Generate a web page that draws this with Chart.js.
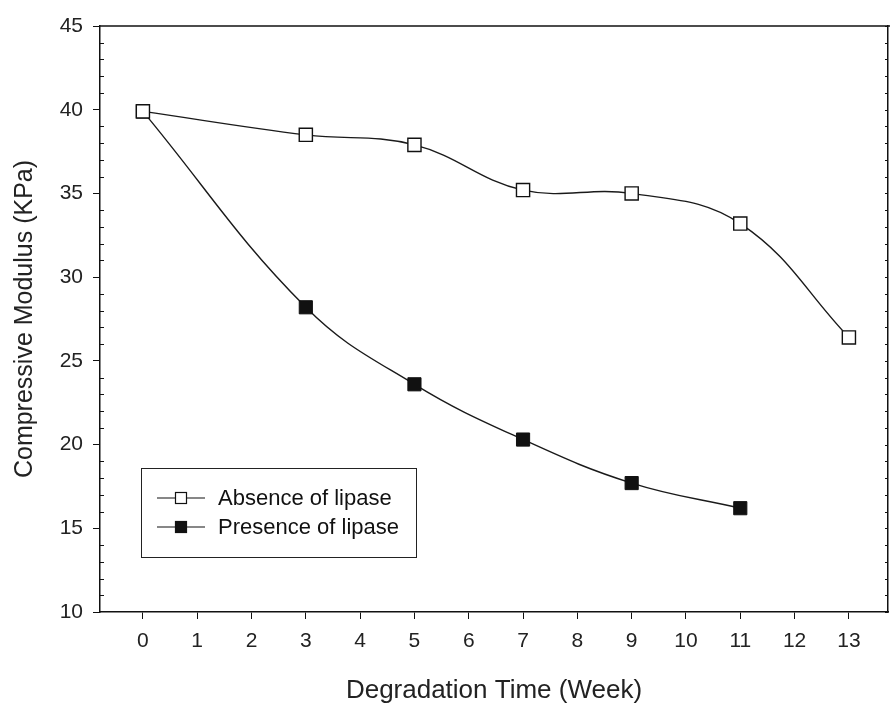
<!DOCTYPE html>
<html>
<head>
<meta charset="utf-8">
<script src="https://cdn.jsdelivr.net/npm/chart.js@4.4.0/dist/chart.umd.min.js"></script>
<style>
    html, body { margin: 0; padding: 0; background: #fff; }
    #wrap { width: 890px; height: 708px; }
</style>
</head>
<body>
<div id="wrap"><canvas id="myChart" width="890" height="708"></canvas></div>
<script>
// data
const weeks = [0, 3, 5, 7, 9, 11, 13]
const absence = [39.9, 38.5, 37.9, 35.2, 35.0, 33.2, 26.4]
const presenceWeeks = [0, 3, 5, 7, 9, 11]
const presence = [39.9, 28.2, 23.6, 20.3, 17.7, 16.2]
const xTicks = [0, 1, 2, 3, 4, 5, 6, 7, 8, 9, 10, 11, 12, 13]
const yTicks = [10, 15, 20, 25, 30, 35, 40, 45]
const seriesNames = ['Absence of lipase', 'Presence of lipase']

const FONT = '"Liberation Sans", Arial, sans-serif'

// minor ticks, frame and the boxed legend inside the plot
const framePlugin = {
    id: 'frame',
    afterDraw(chart) {
        const ctx = chart.ctx
        const a = chart.chartArea
        const y = chart.scales.y
        ctx.save()
        ctx.strokeStyle = '#111'
        ctx.lineWidth = 1.5
        ctx.beginPath()
        ctx.moveTo(a.left, a.top)
        ctx.lineTo(890, a.top)
        ctx.stroke()

        ctx.lineWidth = 1
        for (let v = 10; v <= 45; v++) {
            const py = Math.round(y.getPixelForValue(v)) + 0.5
            ctx.beginPath()
            if (v % 5 !== 0) {
                ctx.moveTo(a.left, py); ctx.lineTo(a.left + 4, py)
            }
            ctx.moveTo(a.right, py); ctx.lineTo(a.right - 3, py)
            ctx.stroke()
        }

        // legend
        const bx = a.left + 41, by = a.bottom - 144, bw = 275, bh = 89
        ctx.strokeStyle = '#222'
        ctx.strokeRect(bx + 0.5, by + 0.5, bw, bh)
        ctx.font = '22px ' + FONT
        ctx.textBaseline = 'middle'
        ctx.fillStyle = '#111'
        const rows = [by + 30, by + 59]
        seriesNames.forEach((name, i) => {
            const ry = rows[i]
            ctx.beginPath()
            ctx.strokeStyle = '#111'
            ctx.lineWidth = 1.2
            ctx.moveTo(bx + 16, ry); ctx.lineTo(bx + 64, ry)
            ctx.stroke()
            ctx.fillStyle = i === 0 ? '#fff' : '#111'
            ctx.fillRect(bx + 34, ry - 6, 12, 12)
            ctx.lineWidth = 1.2
            ctx.strokeRect(bx + 34.5, ry - 5.5, 11, 11)
            ctx.fillStyle = '#111'
            ctx.fillText(name, bx + 77, ry + 1)
        })
        ctx.restore()
    }
}

const toPoints = (xs, ys) => xs.map((x, i) => ({x: x, y: ys[i]}))

new Chart(document.getElementById('myChart').getContext('2d'), {
    type: 'line',
    data: {
        datasets: [{
            label: seriesNames[0],
            data: toPoints(weeks, absence),
            borderColor: '#1a1a1a',
            borderWidth: 1.4,
            backgroundColor: '#fff',
            pointStyle: 'rect',
            pointRadius: 9.3,
            pointBorderWidth: 1.4,
            pointBorderColor: '#111',
            pointBackgroundColor: '#fff',
            tension: 0.4
        }, {
            label: seriesNames[1],
            data: toPoints(presenceWeeks, presence),
            borderColor: '#1a1a1a',
            borderWidth: 1.4,
            pointStyle: 'rect',
            pointRadius: 9.3,
            pointBorderWidth: 1,
            pointBorderColor: '#111',
            pointBackgroundColor: '#111',
            tension: 0.4
        }]
    },
    options: {
        responsive: false,
        animation: false,
        layout: { autoPadding: false, padding: { top: 26, right: 0, left: 0, bottom: 0 } },
        plugins: { legend: { display: false }, tooltip: { enabled: false } },
        scales: {
            x: {
                type: 'linear',
                min: -0.79,
                max: 13.72,
                afterBuildTicks: s => { s.ticks = xTicks.map(v => ({value: v})) },
                afterFit: s => { s.height = 96; s.paddingRight = 0; s.paddingLeft = 0 },
                grid: { drawOnChartArea: false, tickLength: 7, color: '#111', tickColor: '#111' },
                border: { color: '#111', width: 1.5 },
                ticks: { color: '#222', font: { family: FONT, size: 21 }, padding: 10, maxRotation: 0 },
                title: { display: true, text: 'Degradation Time (Week)', color: '#222',
                         font: { family: FONT, size: 26 }, padding: { top: 0, bottom: 2 } }
            },
            y: {
                min: 10,
                max: 45,
                afterBuildTicks: s => { s.ticks = yTicks.map(v => ({value: v})) },
                afterFit: s => { s.width = 100 },
                grid: { drawOnChartArea: false, tickLength: 7, color: '#111', tickColor: '#111' },
                border: { color: '#111', width: 1.5 },
                ticks: { color: '#222', font: { family: FONT, size: 21 }, padding: 10 },
                title: { display: true, text: 'Compressive Modulus (KPa)', color: '#222',
                         font: { family: FONT, size: 25 }, padding: { top: 10, bottom: 0 } }
            },
            y2: {
                position: 'right',
                min: 10,
                max: 45,
                afterBuildTicks: s => { s.ticks = yTicks.map(v => ({value: v})) },
                afterFit: s => { s.width = 2 },
                grid: { drawOnChartArea: false, drawTicks: false },
                border: { color: '#111', width: 1.5 },
                ticks: { display: false }
            }
        }
    },
    plugins: [framePlugin]
})
</script>
</body>
</html>
